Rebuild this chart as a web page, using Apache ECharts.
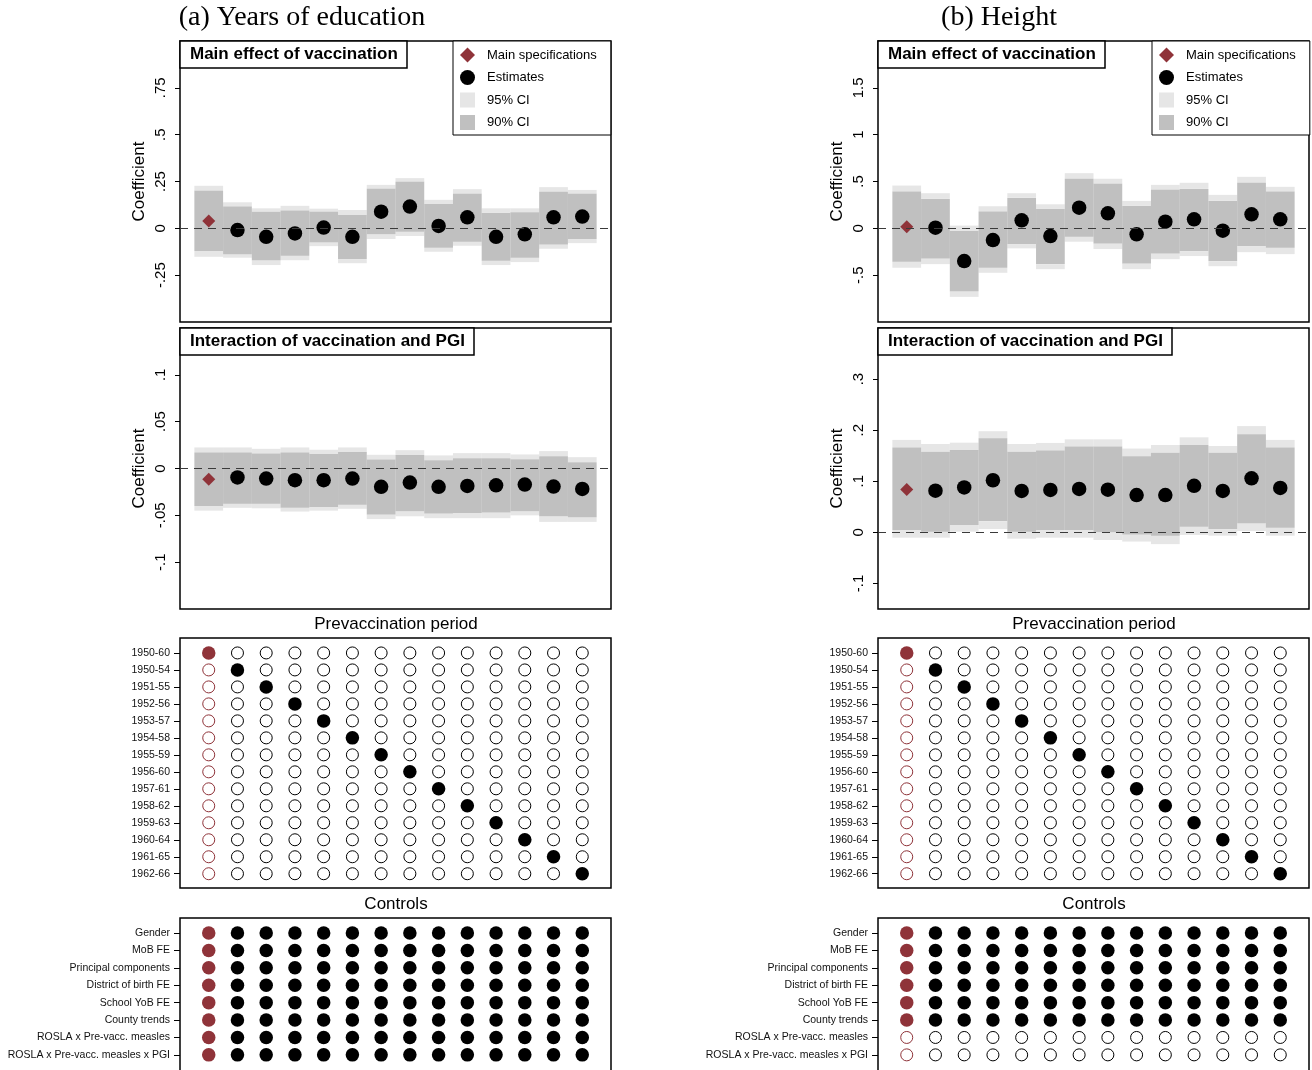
<!DOCTYPE html>
<html>
<head>
<meta charset="utf-8">
<title>Vaccination specification curves</title>
<script src="https://cdn.jsdelivr.net/npm/echarts@6/dist/echarts.min.js"></script>
<style>
html, body { margin: 0; padding: 0; background: #fff; }
#chart { width: 1312px; height: 1070px; }
</style>
</head>
<body>
<div id="chart"></div>
<script>
// specifications, the first one is the main specification
var specs = [1, 2, 3, 4, 5, 6, 7, 8, 9, 10, 11, 12, 13, 14];

var periods = ['1950-60', '1950-54', '1951-55', '1952-56', '1953-57', '1954-58', '1955-59',
  '1956-60', '1957-61', '1958-62', '1959-63', '1960-64', '1961-65', '1962-66'];
// prevaccination period used by each specification (index in periods)
var specPeriod = [0, 1, 2, 3, 4, 5, 6, 7, 8, 9, 10, 11, 12, 13];

var controls = ['Gender', 'MoB FE', 'Principal components', 'District of birth FE', 'School YoB FE',
  'County trends', 'ROSLA x Pre-vacc. measles', 'ROSLA x Pre-vacc. measles x PGI'];
// 1 = control included (same for all specifications)
var eduControls = [1, 1, 1, 1, 1, 1, 1, 1];
var heightControls = [1, 1, 1, 1, 1, 1, 0, 0];

// (a) years of education - main effect
var eduMainEst  = [0.039, -0.009, -0.045, -0.027, 0.004, -0.045, 0.089, 0.116, 0.013, 0.059, -0.045, -0.032, 0.059, 0.063];
var eduMainLo90 = [-0.121, -0.138, -0.170, -0.146, -0.075, -0.164, -0.032, -0.018, -0.104, -0.071, -0.173, -0.157, -0.086, -0.057];
var eduMainHi90 = [0.200, 0.116, 0.089, 0.095, 0.089, 0.071, 0.211, 0.248, 0.130, 0.184, 0.082, 0.086, 0.195, 0.184];
var eduMainLo95 = [-0.152, -0.157, -0.196, -0.170, -0.095, -0.186, -0.057, -0.041, -0.125, -0.093, -0.196, -0.180, -0.109, -0.079];
var eduMainHi95 = [0.227, 0.139, 0.107, 0.120, 0.105, 0.098, 0.232, 0.268, 0.152, 0.209, 0.107, 0.107, 0.220, 0.205];
var eduMainTicks = [-0.25, 0, 0.25, 0.5, 0.75];

// (a) years of education - interaction with PGI
var eduIntEst  = [-0.0114, -0.0096, -0.0107, -0.0125, -0.0125, -0.0107, -0.0196, -0.0150, -0.0196, -0.0186, -0.0179, -0.0171, -0.0193, -0.0218];
var eduIntLo90 = [-0.0400, -0.0375, -0.0375, -0.0420, -0.0410, -0.0386, -0.0490, -0.0457, -0.0480, -0.0475, -0.0470, -0.0457, -0.0510, -0.0520];
var eduIntHi90 = [0.0170, 0.0170, 0.0160, 0.0170, 0.0154, 0.0175, 0.0096, 0.0143, 0.0089, 0.0110, 0.0110, 0.0100, 0.0132, 0.0068];
var eduIntLo95 = [-0.0450, -0.0420, -0.0425, -0.0460, -0.0450, -0.0430, -0.0540, -0.0510, -0.0530, -0.0530, -0.0530, -0.0500, -0.0570, -0.0570];
var eduIntHi95 = [0.0225, 0.0225, 0.0210, 0.0225, 0.0200, 0.0225, 0.0146, 0.0196, 0.0140, 0.0164, 0.0164, 0.0150, 0.0186, 0.0121];
var eduIntTicks = [-0.1, -0.05, 0, 0.05, 0.1];

// (b) height - main effect
var hMainEst  = [0.018, 0.007, -0.350, -0.125, 0.086, -0.082, 0.221, 0.161, -0.064, 0.071, 0.096, -0.025, 0.150, 0.096];
var hMainLo90 = [-0.357, -0.321, -0.671, -0.421, -0.168, -0.382, -0.089, -0.161, -0.375, -0.268, -0.243, -0.350, -0.189, -0.207];
var hMainHi90 = [0.393, 0.314, -0.029, 0.179, 0.325, 0.207, 0.529, 0.475, 0.239, 0.411, 0.421, 0.293, 0.486, 0.393];
var hMainLo95 = [-0.421, -0.382, -0.732, -0.475, -0.214, -0.436, -0.143, -0.221, -0.436, -0.329, -0.296, -0.404, -0.254, -0.275];
var hMainHi95 = [0.457, 0.375, 0.029, 0.236, 0.375, 0.257, 0.589, 0.529, 0.293, 0.464, 0.486, 0.357, 0.550, 0.443];
var hMainTicks = [-0.5, 0, 0.5, 1, 1.5];

// (b) height - interaction with PGI
var hIntEst  = [0.0840, 0.0815, 0.0880, 0.1020, 0.0810, 0.0830, 0.0850, 0.0835, 0.0730, 0.0730, 0.0910, 0.0810, 0.1057, 0.0870];
var hIntLo90 = [0.0046, 0.0013, 0.0144, 0.0220, 0.0013, 0.0046, 0.0046, 0.0000, -0.0040, -0.0065, 0.0110, 0.0065, 0.0180, 0.0090];
var hIntHi90 = [0.166, 0.158, 0.161, 0.184, 0.158, 0.160, 0.168, 0.168, 0.149, 0.156, 0.171, 0.156, 0.192, 0.166];
var hIntLo95 = [-0.0104, -0.0104, 0.0013, 0.0065, -0.0124, -0.0104, -0.0104, -0.0150, -0.0180, -0.0230, -0.0050, -0.0065, 0.0026, -0.0065];
var hIntHi95 = [0.181, 0.173, 0.1755, 0.198, 0.173, 0.175, 0.182, 0.182, 0.164, 0.171, 0.186, 0.169, 0.208, 0.181];
var hIntTicks = [-0.1, 0, 0.1, 0.2, 0.3];

var RED = '#8f3339';
var FONT = 'Arial';
var PLOT_W = 431;

var grids = [], xAxes = [], yAxes = [], series = [], titles = [], legends = [];

// stata style labels: .5, -.25
function fmt(v) {
  return String(+(+v).toFixed(4)).replace(/^(-?)0\./, '$1.');
}

function bandRender(level, color) {
  return function (params, api) {
    var x = api.value(0);
    var lo90 = api.value(1), hi90 = api.value(2), lo95 = api.value(3), hi95 = api.value(4);
    var parts = level === 90 ? [[lo90, hi90]] : [[hi90, hi95], [lo95, lo90]];
    return {
      type: 'group',
      children: parts.map(function (p) {
        var a = api.coord([x - 0.5, p[1]]);
        var b = api.coord([x + 0.5, p[0]]);
        return {
          type: 'rect',
          shape: { x: a[0], y: a[1], width: b[0] - a[0], height: b[1] - a[1] },
          style: { fill: color, opacity: 0.72 }
        };
      })
    };
  };
}

function coefPanel(left, top, min, max, ticks, est, lo90, hi90, lo95, hi95, title) {
  var g = grids.length;
  grids.push({ left: left, top: top, width: PLOT_W, height: 281, show: true,
    outerBoundsMode: 'none', borderColor: '#000', borderWidth: 1.5 });
  xAxes.push({ gridIndex: g, type: 'value', min: 0, max: 15, show: false });
  yAxes.push({
    gridIndex: g, type: 'value', min: min, max: max,
    name: 'Coefficient', nameLocation: 'middle', nameGap: 32,
    nameTextStyle: { fontSize: 17, color: '#000', fontFamily: FONT },
    axisLine: { show: false },
    splitLine: { show: false },
    axisTick: { show: true, length: 5, customValues: ticks, lineStyle: { color: '#000' } },
    axisLabel: { customValues: ticks, rotate: 90, margin: 12, fontSize: 15, color: '#000',
      fontFamily: FONT, formatter: fmt }
  });
  var bands = specs.map(function (s, i) { return [s, lo90[i], hi90[i], lo95[i], hi95[i]]; });
  series.push({
    type: 'line', xAxisIndex: g, yAxisIndex: g, data: [], z: 1, silent: true,
    markLine: { silent: true, symbol: 'none', label: { show: false },
      lineStyle: { color: '#3a3a3a', width: 1, type: [8, 6] }, data: [{ yAxis: 0 }] }
  });
  series.push({
    type: 'custom', name: '95% CI', xAxisIndex: g, yAxisIndex: g, z: 2, silent: true,
    itemStyle: { color: 'rgb(220,220,220)', opacity: 0.72 },
    encode: { x: 0, y: [1, 2, 3, 4] },
    renderItem: bandRender(95, 'rgb(220,220,220)'), data: bands
  });
  series.push({
    type: 'custom', name: '90% CI', xAxisIndex: g, yAxisIndex: g, z: 2, silent: true,
    itemStyle: { color: 'rgb(168,168,168)', opacity: 0.72 },
    encode: { x: 0, y: [1, 2, 3, 4] },
    renderItem: bandRender(90, 'rgb(168,168,168)'), data: bands
  });
  series.push({
    type: 'scatter', name: 'Main specifications', xAxisIndex: g, yAxisIndex: g, z: 4,
    symbol: 'diamond', symbolSize: 13, itemStyle: { color: RED, opacity: 1 },
    data: [[specs[0], est[0]]]
  });
  series.push({
    type: 'scatter', name: 'Estimates', xAxisIndex: g, yAxisIndex: g, z: 4,
    symbol: 'circle', symbolSize: 14.5, itemStyle: { color: '#000', opacity: 1 },
    data: specs.slice(1).map(function (s, i) { return [s, est[i + 1]]; })
  });
  titles.push({
    text: title, left: left, top: top, padding: [5, 9, 5, 10],
    borderColor: '#000', borderWidth: 1.5, backgroundColor: '#fff',
    textStyle: { fontSize: 17, fontWeight: 'bold', color: '#000', fontFamily: FONT, lineHeight: 17 }
  });
}

function dotPanel(left, top, height, rowMin, rowMax, labels, isFilled) {
  var g = grids.length;
  var rows = labels.map(function (l, i) { return i; });
  grids.push({ left: left, top: top, width: PLOT_W, height: height, show: true,
    outerBoundsMode: 'none', borderColor: '#000', borderWidth: 1.5 });
  xAxes.push({ gridIndex: g, type: 'value', min: 0, max: 15, show: false });
  yAxes.push({
    gridIndex: g, type: 'value', min: rowMin, max: rowMax, inverse: true,
    axisLine: { show: false },
    splitLine: { show: false },
    axisTick: { show: true, length: 6, customValues: rows, lineStyle: { color: '#000' } },
    axisLabel: { customValues: rows, margin: 10, fontSize: 10.5, color: '#111', fontFamily: FONT,
      hideOverlap: false, formatter: function (v) { return labels[Math.round(v)]; } }
  });
  var data = [];
  specs.forEach(function (s, j) {
    var c = j === 0 ? RED : '#000';
    rows.forEach(function (r) {
      var on = isFilled(j, r);
      data.push({
        value: [s, r],
        symbolSize: on ? 13.5 : 12,
        itemStyle: on ? { color: c, opacity: 1 } : { color: '#fff', borderColor: c, borderWidth: 1, opacity: 1 }
      });
    });
  });
  series.push({ type: 'scatter', xAxisIndex: g, yAxisIndex: g, symbol: 'circle', silent: true,
    data: data, z: 3 });
}

function legendAt(left) {
  legends.push({
    orient: 'vertical', left: left, top: 41, selectedMode: false,
    padding: [6.5, 14, 5, 7], itemWidth: 15, itemHeight: 15, itemGap: 7.5,
    borderColor: '#000', borderWidth: 1, backgroundColor: '#fff',
    textStyle: { fontSize: 13, color: '#000', fontFamily: FONT, padding: [0, 0, 0, 7] },
    data: [
      { name: 'Main specifications', icon: 'diamond' },
      { name: 'Estimates', icon: 'circle' },
      { name: '95% CI', icon: 'rect' },
      { name: '90% CI', icon: 'rect' }
    ]
  });
}

function side(left, mainArgs, intArgs, ctrl) {
  coefPanel.apply(null, [left, 41].concat(mainArgs, ['Main effect of vaccination']));
  coefPanel.apply(null, [left, 328].concat(intArgs, ['Interaction of vaccination and PGI']));
  dotPanel(left, 638, 250, -0.88, 13.84, periods, function (j, r) { return specPeriod[j] === r; });
  dotPanel(left, 918, 250, -0.863, 13.5, controls, function (j, r) { return ctrl[r] === 1; });
}

side(180,
  [-0.5, 1, eduMainTicks, eduMainEst, eduMainLo90, eduMainHi90, eduMainLo95, eduMainHi95],
  [-0.15, 0.15, eduIntTicks, eduIntEst, eduIntLo90, eduIntHi90, eduIntLo95, eduIntHi95],
  eduControls);
side(878,
  [-1, 2, hMainTicks, hMainEst, hMainLo90, hMainHi90, hMainLo95, hMainHi95],
  [-0.15, 0.4, hIntTicks, hIntEst, hIntLo90, hIntHi90, hIntLo95, hIntHi95],
  heightControls);
legendAt(453);
legendAt(1152);

function label(x, y, text, font) {
  return { type: 'text', x: x, y: y, silent: true,
    style: { text: text, font: font, fill: '#000', align: 'center', verticalAlign: 'middle' } };
}

var option = {
  animation: false,
  backgroundColor: '#fff',
  grid: grids,
  xAxis: xAxes,
  yAxis: yAxes,
  title: titles,
  legend: legends,
  series: series,
  graphic: [
    label(302, 18, '(a) Years of education', '28px "Liberation Serif", serif'),
    label(999, 18, '(b) Height', '28px "Liberation Serif", serif'),
    label(396, 624, 'Prevaccination period', '17px Arial'),
    label(1094, 624, 'Prevaccination period', '17px Arial'),
    label(396, 904, 'Controls', '17px Arial'),
    label(1094, 904, 'Controls', '17px Arial')
  ]
};

var myChart = echarts.init(document.getElementById('chart'));
myChart.setOption(option);
</script>
</body>
</html>
